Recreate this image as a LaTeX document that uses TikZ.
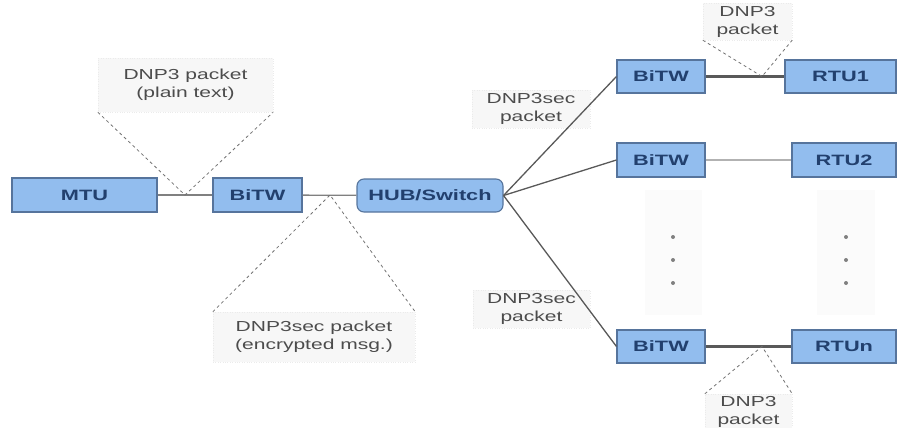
\documentclass[tikz,border=0pt]{standalone}
\usepackage{fontspec}
\setmainfont[FakeStretch=1.45]{Liberation Sans}
\usepackage{tikz}
\usetikzlibrary{positioning}
\definecolor{boxblue}{HTML}{92BDEE}
\definecolor{edgeblue}{HTML}{56749C}
\definecolor{inkblue}{HTML}{22406E}
\definecolor{notegray}{HTML}{F7F7F7}

\begin{document}
\begin{tikzpicture}[
  x=1pt, y=-1pt,
  blk/.style={
    draw=edgeblue, fill=boxblue, line width=1.1pt,
    minimum height=34pt, inner sep=0pt,
    font=\fontsize{15}{18}\selectfont\bfseries, text=inkblue
  },
  hubbox/.style={blk, rounded corners=7pt, minimum height=33pt},
  note/.style={
    draw=black!8, dotted, fill=notegray, inner sep=0pt, align=center,
    font=\fontsize{14.5}{18}\selectfont, text=black!70
  },
  dots/.style={fill=black!1.5, draw=none},
  link/.style={draw=black!50, line width=1.3pt},
  fatlink/.style={draw=black!65, line width=2.6pt},
  thinlink/.style={draw=black!30, line width=1.6pt},
  callout/.style={draw=black!55, dashed, line width=0.8pt}
]
  \useasboundingbox (0,0) rectangle (898,428);

  % notes
  \node[note, minimum width=175pt, minimum height=54pt] (plain) at (185.5,85)
    {DNP3 packet\\(plain text)};
  \node[note, minimum width=202pt, minimum height=50pt] (enc) at (314,337)
    {DNP3sec packet\\(encrypted msg.)};
  \node[note, minimum width=89pt, minimum height=37pt] (top) at (747.5,21.5)
    {DNP3\\packet};
  \node[note, minimum width=87pt, minimum height=36pt] (bot) at (748.5,412)
    {DNP3\\packet};
  \node[note, minimum width=118pt, minimum height=38pt] (sec1) at (531,109)
    {DNP3sec\\packet};
  \node[note, minimum width=117pt, minimum height=38pt] (sec2) at (531.5,309)
    {DNP3sec\\packet};

  % boxes
  \node[blk, minimum width=145pt] (mtu) at (84.5,195) {MTU};
  \node[blk, minimum width=89pt] (bitw0) at (257.5,195) {BiTW};
  \node[hubbox, minimum width=146pt] (hub) at (430,195.5) {HUB/Switch};
  \node[blk, minimum width=88pt, minimum height=33pt] (bitw1) at (661,76.5) {BiTW};
  \node[blk, minimum width=111pt, minimum height=33pt] (rtu1) at (840.5,76.5) {RTU1};
  \node[blk, minimum width=88pt] (bitw2) at (661,160) {BiTW};
  \node[blk, minimum width=104pt] (rtu2) at (844,160) {RTU2};
  \node[blk, minimum width=88pt, minimum height=33pt] (bitwn) at (661,346.5) {BiTW};
  \node[blk, minimum width=104pt, minimum height=33pt] (rtun) at (844,346.5) {RTUn};

  % dots
  \fill[dots] (645,190) rectangle (702,315);
  \fill[dots] (817,190) rectangle (875,315);
  \foreach \y in {237,260,283} {
    \fill[black!50] (673,\y) circle (2pt);
    \fill[black!50] (846,\y) circle (2pt);
  }

  % links
  \draw[link] (mtu) -- (bitw0);
  \draw[link] (bitw0) -- (hub);
  \draw[link, draw=black!65] (hub.east) -- (bitw1.west);
  \draw[link, draw=black!65] (hub.east) -- (bitw2.west);
  \draw[link, draw=black!65] (hub.east) -- (bitwn.west);
  \draw[fatlink] (bitw1) -- (rtu1);
  \draw[thinlink] (bitw2) -- (rtu2);
  \draw[fatlink] (bitwn) -- (rtun);

  \coordinate (j1) at (185,195);
  \coordinate (j2) at (330,195);
  \coordinate (j3) at (762,76.5);
  \coordinate (j4) at (762,346.5);

  \draw[callout] (plain.south west) -- (j1) -- (plain.south east);
  \draw[callout] (enc.north west) -- (j2) -- (enc.north east);
  \draw[callout] (top.south west) -- (j3) -- (top.south east);
  \draw[callout] (bot.north west) -- (j4) -- (bot.north east);
\end{tikzpicture}
\end{document}
